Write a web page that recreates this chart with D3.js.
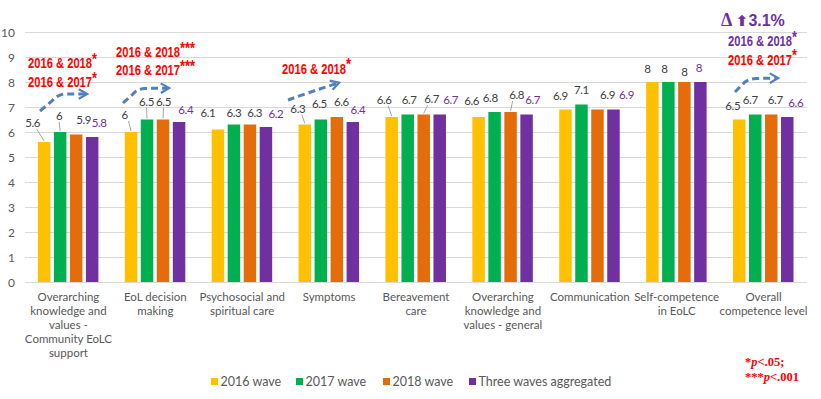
<!DOCTYPE html>
<html><head><meta charset="utf-8">
<script src="https://cdn.jsdelivr.net/npm/d3@7"></script>
<style>
html,body{margin:0;padding:0;background:#fff;}
svg{display:block;}
</style></head>
<body>
<svg id="chart" width="821" height="399"></svg>
<script>
const categories = [
  "Overarching\nknowledge and\nvalues -\nCommunity EoLC\nsupport",
  "EoL decision\nmaking",
  "Psychosocial and\nspiritual care",
  "Symptoms",
  "Bereavement\ncare",
  "Overarching\nknowledge and\nvalues - general",
  "Communication",
  "Self-competence\nin EoLC",
  "Overall\ncompetence level"
];
const seriesNames = ["2016 wave", "2017 wave", "2018 wave", "Three waves aggregated"];
const wave2016 = [5.6, 6, 6.1, 6.3, 6.6, 6.6, 6.9, 8, 6.5];
const wave2017 = [6, 6.5, 6.3, 6.5, 6.7, 6.8, 7.1, 8, 6.7];
const wave2018 = [5.9, 6.5, 6.3, 6.6, 6.7, 6.8, 6.9, 8, 6.7];
const aggregated = [5.8, 6.4, 6.2, 6.4, 6.7, 6.7, 6.9, 8, 6.6];
const yTicks = [0, 1, 2, 3, 4, 5, 6, 7, 8, 9, 10];

// layout: data label nudges [dx, dy from bar top] per series / category
const labelNudge = [
  [[-11.5,-19],[-6.5,-17],[-10,-17],[-7,-16],[-7.5,-17],[-7,-16],[-5,-13.5],[-5,-13],[-6.5,-13.5]],
  [[-1,-16],[-0.5,-18],[0,-12],[-1.5,-16],[1.5,-14.5],[-4.3,-13.7],[0,-15],[-4,-13],[-5,-14.5]],
  [[7.5,-15],[0.5,-18],[4.7,-12],[4.5,-15],[8,-15.5],[6,-17],[10,-15],[0,-10.3],[4,-14.5]],
  [[7,-14],[6.7,-12],[10,-13],[5,-12],[11,-14.5],[6,-14.5],[13,-15],[-1.5,-13.7],[8.5,-13.7]]
];
const leaders = [[0,0],[1,0],[0,1],[1,1],[2,1],[0,3],[0,4],[2,4],[2,5]]; // [series, category]

const colors = ["#FFC000", "#00B050", "#E46C0A", "#7030A0"];
const values = [wave2016, wave2017, wave2018, aggregated];

const svg = d3.select("#chart");
const plotLeft = 25, plotRight = 807, plotTop = 32, plotBottom = 282;

const x0 = d3.scaleBand().domain(d3.range(categories.length)).range([plotLeft, plotRight]).padding(0);
const x1 = d3.scaleBand().domain(d3.range(4)).range([0, 60.5]).paddingInner(0.22).paddingOuter(0);
const groupOffset = (x0.bandwidth() - 60.5) / 2 - 0.3;
const y = d3.scaleLinear().domain([0, 10]).range([plotBottom, plotTop]);
const bx = (s, i) => x0(i) + groupOffset + x1(s) + x1.bandwidth() / 2;

// gridlines
svg.append("g").selectAll("line").data(yTicks).join("line")
  .attr("x1", plotLeft).attr("x2", plotRight)
  .attr("y1", d => Math.round(y(d)) + 0.5).attr("y2", d => Math.round(y(d)) + 0.5)
  .attr("stroke", "#D9D9D9").attr("stroke-width", 1);

// y axis labels
const yAxis = d3.axisLeft(y).tickValues(yTicks).tickSize(0).tickPadding(0);
const yg = svg.append("g").attr("transform", `translate(15,0)`).call(yAxis);
yg.select(".domain").remove();
yg.selectAll("text").attr("font-family", "Lato, 'Open Sans', sans-serif").attr("font-size", 12).attr("fill", "#595959").attr("dy", "0.34em");

// bars
const groups = svg.append("g").selectAll("g").data(d3.range(4)).join("g");
groups.each(function(s) {
  d3.select(this).selectAll("rect").data(values[s]).join("rect")
    .attr("x", (d, i) => x0(i) + groupOffset + x1(s))
    .attr("width", x1.bandwidth())
    .attr("y", d => y(d))
    .attr("height", d => y(0) - y(d))
    .attr("fill", colors[s]);
});

// leader lines
svg.append("g").selectAll("line").data(leaders).join("line")
  .attr("x1", ([s, i]) => bx(s, i) + labelNudge[s][i][0] + (labelNudge[s][i][0] < -3 ? 4 : (labelNudge[s][i][0] > 3 ? -4 : 0)))
  .attr("y1", ([s, i]) => y(values[s][i]) + labelNudge[s][i][1] + 6)
  .attr("x2", ([s, i]) => bx(s, i))
  .attr("y2", ([s, i]) => y(values[s][i]) - 1)
  .attr("stroke", "#A6A6A6").attr("stroke-width", 1);

// data labels
const labelData = [];
values.forEach((arr, s) => arr.forEach((v, i) => labelData.push({s, i, v})));
svg.append("g").selectAll("text").data(labelData).join("text")
  .attr("x", d => bx(d.s, d.i) + labelNudge[d.s][d.i][0])
  .attr("y", d => y(d.v) + labelNudge[d.s][d.i][1])
  .attr("dy", "0.36em")
  .attr("text-anchor", "middle")
  .attr("font-family", "Lato, 'Open Sans', sans-serif")
  .attr("font-size", 11.5)
  .attr("letter-spacing", -0.4)
  .attr("fill", d => d.s === 3 ? "#7030A0" : "#404040")
  .text(d => d.v);

// category labels
const catG = svg.append("g");
categories.forEach((c, i) => {
  const t = catG.append("text")
    .attr("x", x0(i) + x0.bandwidth() / 2)
    .attr("y", 301)
    .attr("text-anchor", "middle")
    .attr("font-family", "Lato, 'Open Sans', sans-serif")
    .attr("font-size", 11.5)
    .attr("fill", "#595959");
  c.split("\n").forEach((line, k) => {
    t.append("tspan").attr("x", x0(i) + x0.bandwidth() / 2).attr("y", 301 + k * 14).text(line);
  });
});

// legend
const legendX = [211, 296, 383, 469];
const lg = svg.append("g");
seriesNames.forEach((n, s) => {
  lg.append("rect").attr("x", legendX[s]).attr("y", 378).attr("width", 7).attr("height", 7).attr("fill", colors[s]);
  lg.append("text").attr("x", legendX[s] + 9.5).attr("y", 381.5).attr("dy", "0.36em")
    .attr("font-family", "Lato, 'Open Sans', sans-serif").attr("font-size", 12.5).attr("fill", "#595959").text(n);
});

// significance annotations (condensed bold)
function sig(xl, yc, txt, stars, color) {
  const g = svg.append("g").attr("transform", `translate(${xl},${yc}) scale(0.8,1)`);
  const t = g.append("text").attr("x", 0).attr("y", 0).attr("dy", "0.36em")
    .attr("font-family", "'Liberation Sans', Arial, sans-serif").attr("font-weight", "bold").attr("font-size", 14)
    .attr("fill", color);
  t.append("tspan").text(txt);
  t.append("tspan").attr("font-size", 16).attr("dy", "-0.2em").text(stars);
}
sig(28, 63, "2016 & 2018", "*", "#FF0000");
sig(28, 82, "2016 & 2017", "*", "#FF0000");
sig(116, 52, "2016 & 2018", "***", "#FF0000");
sig(116, 70, "2016 & 2017", "***", "#FF0000");
sig(282, 68.5, "2016 & 2018", "*", "#FF0000");
sig(728, 41, "2016 & 2018", "*", "#7030A0");
sig(728, 59.5, "2016 & 2017", "*", "#FF0000");

const delta = svg.append("text").attr("x", 721).attr("y", 20).attr("dy", "0.36em")
  .attr("font-weight", "bold").attr("fill", "#7030A0");
delta.append("tspan").attr("font-family", "'Liberation Serif', serif").attr("font-size", 18).text("Δ ");
delta.append("tspan").attr("font-family", "'DejaVu Sans', sans-serif").attr("font-size", 15).text("⬆");
delta.append("tspan").attr("font-family", "'Liberation Sans', Arial, sans-serif").attr("font-size", 16).text("3.1%");

// dashed arrows
const defs = svg.append("defs");
defs.append("marker").attr("id", "ah").attr("viewBox", "0 0 10 10").attr("refX", 7).attr("refY", 5)
  .attr("markerWidth", 4).attr("markerHeight", 4).attr("orient", "auto")
  .append("path").attr("d", "M1,1 L8,5 L1,9").attr("fill", "none").attr("stroke", "#4F81BD").attr("stroke-width", 1.8);
const arrows = [
  "M40,111 L52,101 Q57,95 64,94 L86,94",
  "M123,103 L133,94 Q137,89 145,88.5 L168,88",
  "M288,100 Q310,92 338,83",
  "M735,92 L745,82 Q749,79 756,78.5 L777,78"
];
svg.append("g").selectAll("path").data(arrows).join("path")
  .attr("d", d => d).attr("fill", "none").attr("stroke", "#4F81BD").attr("stroke-width", 3)
  .attr("stroke-dasharray", "7,4").attr("marker-end", "url(#ah)");

// footnote
const fn = svg.append("g").attr("font-family", "'Liberation Serif', 'Times New Roman', serif").attr("font-weight", "bold")
  .attr("font-size", 12.5).attr("fill", "#FF0000");
const f1 = fn.append("text").attr("x", 745).attr("y", 366);
f1.append("tspan").text("*");
f1.append("tspan").attr("font-style", "italic").text("p");
f1.append("tspan").text("<.05;");
const f2 = fn.append("text").attr("x", 745).attr("y", 381);
f2.append("tspan").text("***");
f2.append("tspan").attr("font-style", "italic").text("p");
f2.append("tspan").text("<.001");
</script>
</body></html>
